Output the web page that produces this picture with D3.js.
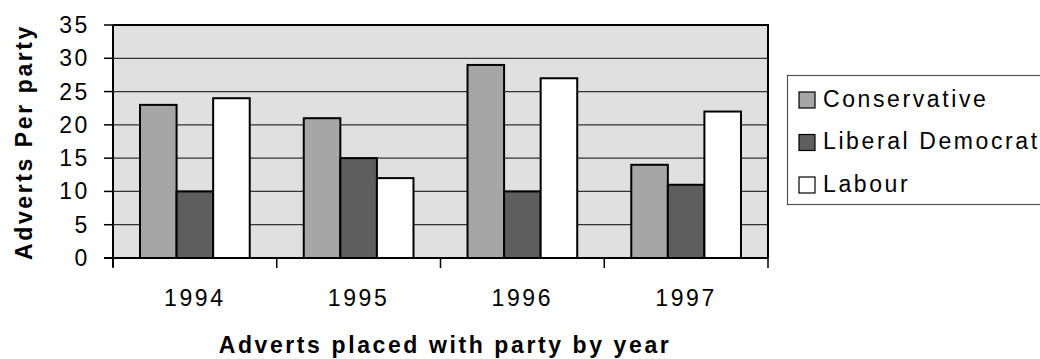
<!DOCTYPE html>
<html>
<head>
<meta charset="utf-8">
<script src="https://cdn.jsdelivr.net/npm/d3@7"></script>
<style>
  body { margin: 0; background: #fff; }
  svg { display: block; font-family: "Liberation Sans", Arial, sans-serif; }
</style>
</head>
<body>
<svg id="chart" width="1040" height="359"></svg>
<script>
const years = ["1994", "1995", "1996", "1997"];
const parties = ["Conservative", "Liberal Democrat", "Labour"];
const conservative = [23, 21, 29, 14];
const libDem = [10, 15, 10, 11];
const labour = [24, 12, 27, 22];
const yTicks = [0, 5, 10, 15, 20, 25, 30, 35];

const seriesValues = [conservative, libDem, labour];
const fills = ["#a6a6a6", "#5e5e5e", "#ffffff"];

const plotLeft = 113, plotRight = 768, plotTop = 25, plotBottom = 258;
const fontSize = 23;
const spacing = "2.6px";

const svg = d3.select("#chart");

const y = d3.scaleLinear().domain([0, 35]).range([plotBottom, plotTop]);
const x0 = d3.scaleBand().domain(years).range([plotLeft, plotRight])
  .paddingInner(0.33).paddingOuter(0.165);
const x1 = d3.scaleBand().domain(parties).range([0, x0.bandwidth()]);
const xb = d3.scaleLinear().domain([0, years.length]).range([plotLeft, plotRight]);

const color = d3.scaleOrdinal().domain(parties).range(fills);

// plot background
svg.append("rect")
  .attr("x", plotLeft).attr("y", plotTop)
  .attr("width", plotRight - plotLeft).attr("height", plotBottom - plotTop)
  .attr("fill", "#e0e0e0");

// gridlines
svg.append("g")
  .selectAll("line")
  .data(yTicks.filter(d => d > 0 && d < 35))
  .join("line")
  .attr("x1", plotLeft).attr("x2", plotRight)
  .attr("y1", d => y(d)).attr("y2", d => y(d))
  .attr("stroke", "#333")
  .attr("stroke-width", 1.2);

// frame top/right
svg.append("path")
  .attr("d", `M${plotLeft},${plotTop}H${plotRight}V${plotBottom}`)
  .attr("fill", "none")
  .attr("stroke", "#000")
  .attr("stroke-width", 2);

// bars
const data = years.map((yr, i) => ({
  year: yr,
  values: parties.map((p, j) => ({ party: p, value: seriesValues[j][i] }))
}));

svg.append("g")
  .selectAll("g")
  .data(data)
  .join("g")
  .attr("transform", d => `translate(${x0(d.year)},0)`)
  .selectAll("rect")
  .data(d => d.values)
  .join("rect")
  .attr("x", d => x1(d.party))
  .attr("y", d => y(d.value))
  .attr("width", x1.bandwidth())
  .attr("height", d => y(0) - y(d.value))
  .attr("fill", d => color(d.party))
  .attr("stroke", "#000")
  .attr("stroke-width", 2);

// y axis
const yAxis = svg.append("g");
yAxis.append("line")
  .attr("x1", plotLeft).attr("x2", plotLeft)
  .attr("y1", plotTop).attr("y2", plotBottom + 9)
  .attr("stroke", "#000").attr("stroke-width", 2);
yAxis.selectAll(".ytick")
  .data(yTicks)
  .join("line")
  .attr("class", "ytick")
  .attr("x1", plotLeft - 9).attr("x2", plotLeft)
  .attr("y1", d => y(d)).attr("y2", d => y(d))
  .attr("stroke", "#000").attr("stroke-width", 1.5);
yAxis.selectAll(".ylabel")
  .data(yTicks)
  .join("text")
  .attr("class", "ylabel")
  .attr("x", 90)
  .attr("y", d => y(d))
  .attr("dy", "0.35em")
  .attr("text-anchor", "end")
  .attr("font-size", fontSize)
  .attr("letter-spacing", spacing)
  .text(d => d);

// x axis
const xAxis = svg.append("g");
xAxis.append("line")
  .attr("x1", plotLeft - 9).attr("x2", plotRight)
  .attr("y1", plotBottom).attr("y2", plotBottom)
  .attr("stroke", "#000").attr("stroke-width", 2);
xAxis.selectAll(".xtick")
  .data(d3.range(years.length + 1))
  .join("line")
  .attr("class", "xtick")
  .attr("x1", d => xb(d)).attr("x2", d => xb(d))
  .attr("y1", plotBottom).attr("y2", plotBottom + 10)
  .attr("stroke", "#000").attr("stroke-width", 1.5);
xAxis.selectAll(".xlabel")
  .data(years)
  .join("text")
  .attr("class", "xlabel")
  .attr("x", d => x0(d) + x0.bandwidth() / 2)
  .attr("y", 306)
  .attr("text-anchor", "middle")
  .attr("font-size", fontSize)
  .attr("letter-spacing", spacing)
  .text(d => d);

// axis titles
svg.append("text")
  .attr("x", 445)
  .attr("y", 353)
  .attr("text-anchor", "middle")
  .attr("font-size", fontSize)
  .attr("font-weight", "bold")
  .attr("letter-spacing", spacing)
  .text("Adverts placed with party by year");

svg.append("text")
  .attr("transform", "translate(32,142) rotate(-90)")
  .attr("text-anchor", "middle")
  .attr("font-size", fontSize)
  .attr("font-weight", "bold")
  .attr("letter-spacing", spacing)
  .text("Adverts Per party");

// legend
const legend = svg.append("g");
legend.append("rect")
  .attr("x", 787.5).attr("y", 75.5)
  .attr("width", 270).attr("height", 129)
  .attr("fill", "#fff")
  .attr("stroke", "#555")
  .attr("stroke-width", 1.2);

const items = legend.selectAll(".item")
  .data(parties)
  .join("g")
  .attr("class", "item")
  .attr("transform", (d, i) => `translate(0,${100 + i * 42.5})`);

items.append("rect")
  .attr("x", 799).attr("y", -8)
  .attr("width", 16).attr("height", 16)
  .attr("fill", d => color(d))
  .attr("stroke", "#000")
  .attr("stroke-width", 1.2);

items.append("text")
  .attr("x", 823)
  .attr("y", 0)
  .attr("dy", "0.3em")
  .attr("font-size", fontSize)
  .attr("letter-spacing", spacing)
  .text(d => d);
</script>
</body>
</html>
